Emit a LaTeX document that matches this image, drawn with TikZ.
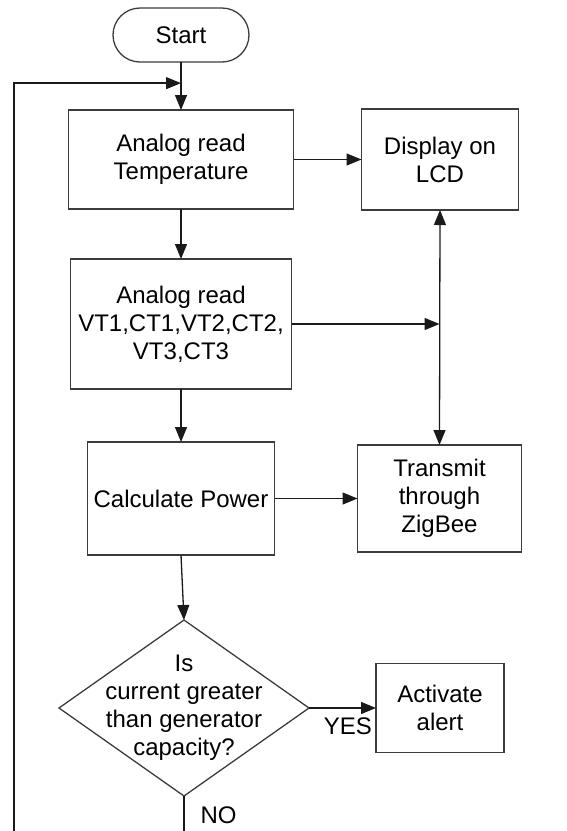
\documentclass[tikz,border=0pt]{standalone}
\usepackage{fontspec}
\setmainfont{Liberation Sans}
\usepackage{tikz}
\usetikzlibrary{
  arrows.meta,
  shapes,
  shapes.geometric,
  shapes.misc,
  positioning,
  calc
}
\definecolor{fcLine}{HTML}{1A1A1A}
\definecolor{fcBorder}{HTML}{3C3C3C}
\tikzset{
  fcnode/.style={
    draw=fcBorder, line width=1.3pt, align=center, outer sep=0pt, inner sep=3pt,
    font=\fontsize{24}{28}\selectfont, text=black
  },
  procbox/.style={fcnode, rectangle},
  terminal/.style={fcnode, rounded rectangle, minimum width=142pt, minimum height=54pt},
  decision/.style={fcnode, diamond, minimum width=250pt, minimum height=176pt, inner sep=0pt},
  flow/.style={-{Triangle[length=15pt, width=12pt]}, line width=1.3pt, fcLine},
  flowboth/.style={{Triangle[length=15pt, width=12pt]}-{Triangle[length=15pt, width=12pt]}, line width=1.3pt, fcLine},
  netline/.style={line width=1.3pt, fcLine},
  tag/.style={font=\fontsize{24}{28}\selectfont, text=black, inner sep=0pt}
}

\begin{document}
\begin{tikzpicture}[x=1pt, y=1pt, node distance=50pt]
  \useasboundingbox (0,0) rectangle (567,-831);
  \node[terminal] (start) at (181,-35) {Start};
  \node[procbox, minimum width=225pt, minimum height=99pt, below=48pt of start] (readtemp) {Analog read\\Temperature};
  \node[procbox, minimum width=157pt, minimum height=101pt, right=68pt of readtemp] (lcd) {Display on\\LCD};
  \node[procbox, minimum width=221pt, minimum height=130pt, below=50pt of readtemp] (readvi) {Analog read\\VT1,CT1,VT2,CT2,\\VT3,CT3};
  \node[procbox, minimum width=187pt, minimum height=113pt, below=53pt of readvi] (calcpow) {Calculate Power};
  \node[procbox, minimum width=164pt, minimum height=107pt, right=83pt of calcpow] (zigbee) {Transmit\\through\\ZigBee};
  \node[decision, below=65pt of calcpow, xshift=3pt,
        label={[tag, align=center]center:Is\\current greater\\than generator\\capacity?}] (overload) {};
  \node[procbox, minimum width=128pt, minimum height=89pt, right=67pt of overload] (alert) {Activate\\alert};
  \coordinate (merge) at ($(start.south)!0.44!(readtemp.north)$);
  \coordinate (loopend) at (14,-831);
  \coordinate (noend) at (overload.south |- loopend);
  \draw[flow] (start) -- (readtemp);
  \draw[flow] (loopend) |- (merge);
  \draw[flow] (readtemp) -- (lcd);
  \draw[flow] (readtemp) -- (readvi);
  \draw[flow] (readvi.east) -- (readvi.east -| zigbee.north);
  \draw[flowboth] (lcd.south) -- (zigbee.north);
  \draw[flow] (readvi) -- (calcpow);
  \draw[flow] (calcpow) -- (zigbee);
  \draw[flow] (calcpow.south) -- (overload.north);
  \draw[flow] (overload.east) -- node[tag, below=9pt, pos=0.58] {YES} (alert.west);
  \draw[netline] (overload.south) -- node[tag, right=16pt, pos=0.55] {NO} (noend);
\end{tikzpicture}
\end{document}
